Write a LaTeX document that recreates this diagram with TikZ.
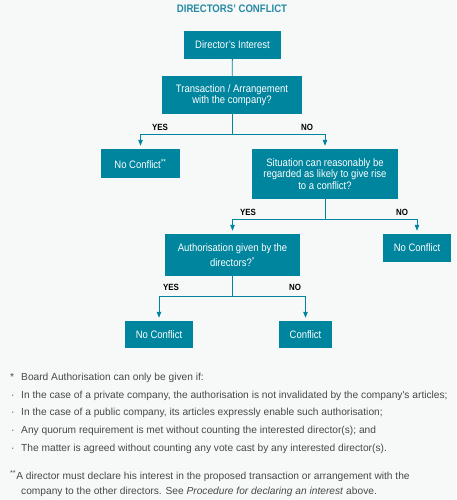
\documentclass[tikz,border=0pt]{standalone}
\usepackage{fontspec}
\setmainfont{Liberation Sans}[FakeStretch=0.88]
\newfontfamily\notefont{Liberation Sans}
\usetikzlibrary{arrows.meta}
\definecolor{boxteal}{RGB}{0,133,158}
\definecolor{titleteal}{RGB}{38,138,165}
\definecolor{pagebg}{RGB}{247,249,248}
\definecolor{notegray}{RGB}{72,72,72}

\tikzset{
  qbox/.style={fill=boxteal,text=white,font=\fontsize{10.8}{11.5}\selectfont,align=center,inner sep=0pt},
  link/.style={draw=boxteal,line width=.8pt},
  flow/.style={link,-{Triangle[width=4.5pt,length=6pt]},shorten >=3pt},
  answer/.style={font=\fontsize{9}{10}\selectfont\bfseries},
  note/.style={font=\notefont\fontsize{10.2}{12}\selectfont,text=notegray,anchor=base west,inner sep=0pt}
}

\begin{document}
\begin{tikzpicture}[x=1pt,y=-1pt]
  \fill[pagebg] (0,0) rectangle (456,500);
  \useasboundingbox (0,0) rectangle (456,500);

  \node[font=\fontsize{10.9}{12}\selectfont\bfseries,text=titleteal] (title) at (232,9) {DIRECTORS' CONFLICT};

  % boxes
  \node[qbox,minimum width=97,minimum height=28] (dint) at (232.5,45) {Director's Interest};
  \node[qbox,minimum width=140,minimum height=38] (trans) at (232,95) {Transaction / Arrangement\\with the company?};
  \node[qbox,minimum width=79,minimum height=29] (nc1) at (140.5,163.5) {No Conflict\textsuperscript{**}};
  \node[qbox,minimum width=146,minimum height=50] (sit) at (325,174) {Situation can reasonably be\\regarded as likely to give rise\\to a conflict?};
  \node[qbox,minimum width=135,minimum height=42,font=\fontsize{10.8}{14.5}\selectfont] (auth) at (232.5,255) {Authorisation given by the\\directors?\textsuperscript{*}};
  \node[qbox,minimum width=68,minimum height=28] (nc2) at (417,248) {No Conflict};
  \node[qbox,minimum width=68,minimum height=27] (nc3) at (159,334.5) {No Conflict};
  \node[qbox,minimum width=53,minimum height=27] (conf) at (305.5,334.5) {Conflict};

  % connectors
  \draw[link] (dint) -- (trans);
  \draw[flow] (trans.south) -- ++(0,20) -| (nc1.north);
  \draw[flow] (trans.south) -- ++(0,20) -| (sit.north);
  \draw[flow] (sit.south) -- ++(0,20) -| (auth.north);
  \draw[flow] (sit.south) -- ++(0,20) -| (nc2.north);
  \draw[flow] (auth.south) -- ++(0,20) -| (nc3.north);
  \draw[flow] (auth.south) -- ++(0,20) -| (conf.north);

  % answers
  \node[answer] (yes1) at (160,127) {YES};
  \node[answer] (no1) at (307,127) {NO};
  \node[answer] (yes2) at (248,212) {YES};
  \node[answer] (no2) at (402,212) {NO};
  \node[answer] (yes3) at (171,287) {YES};
  \node[answer] (no3) at (295,287) {NO};

  % notes
  \node[note] (star) at (10,380) {*};
  \node[note] (n0) at (21,380) {Board Authorisation can only be given if:};
  \node[note] (b1) at (11,398) {·};
  \node[note] (n1) at (21,398) {In the case of a private company, the authorisation is not invalidated by the company's articles;};
  \node[note] (b2) at (11,415) {·};
  \node[note] (n2) at (21,415) {In the case of a public company, its articles expressly enable such authorisation;};
  \node[note] (b3) at (11,433) {·};
  \node[note] (n3) at (21,433) {Any quorum requirement is met without counting the interested director(s); and};
  \node[note] (b4) at (11,451) {·};
  \node[note] (n4) at (21,451) {The matter is agreed without counting any vote cast by any interested director(s).};
  \node[note] (n5) at (10,479) {\textsuperscript{**}A director must declare his interest in the proposed transaction or arrangement with the};
  \node[note] (n6) at (21,494) {company to the other directors. See \textit{Procedure for declaring an interest} above.};
\end{tikzpicture}
\end{document}
